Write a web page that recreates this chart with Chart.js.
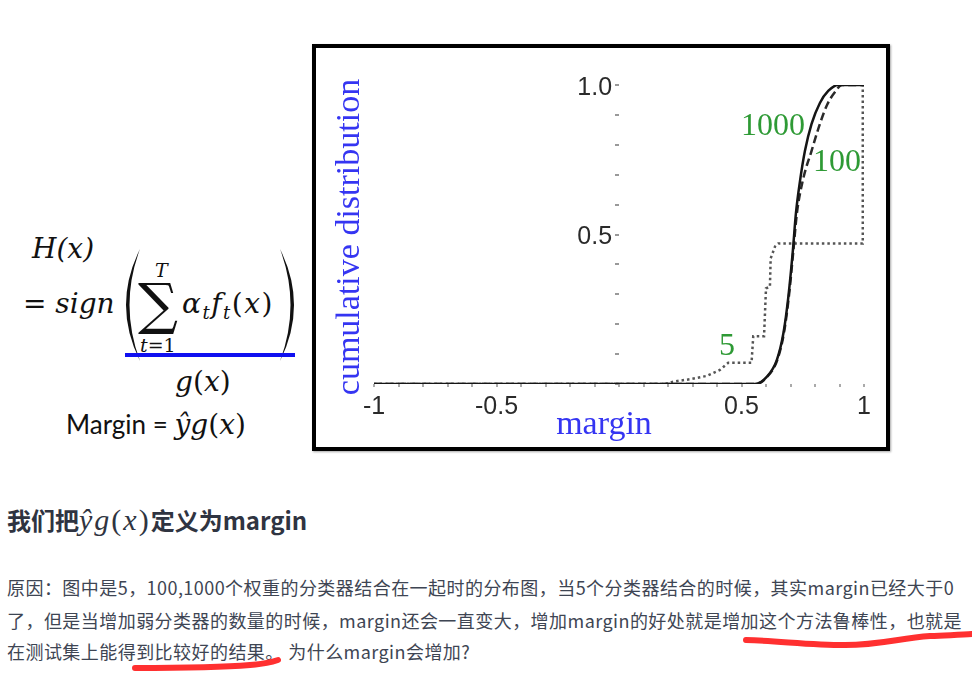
<!DOCTYPE html>
<html>
<head>
<meta charset="utf-8">
<script src="https://cdn.jsdelivr.net/npm/chart.js@4.4.1/dist/chart.umd.min.js"></script>
<style>
  html, body { margin: 0; padding: 0; background: #fff; }
  body { width: 972px; height: 677px; position: relative; overflow: hidden; }
  .m { position: absolute; font-family: "DejaVu Serif", serif; font-style: italic; font-size: 28px; line-height: 1; color: #111; white-space: nowrap; }
  .up { font-style: normal; }
  .sb { font-size: 18px; position: relative; top: 6px; }
  #figBox { position: absolute; left: 312px; top: 44px; width: 578px; height: 407px; border: 4px solid #000; box-sizing: border-box; box-shadow: 1px 1px 2px rgba(0,0,0,0.35); background: #fff; }
  #figInner { position: relative; width: 570px; height: 399px; }
  h3 { position: absolute; left: 7px; top: 503px; margin: 0; font-family: "Noto Sans CJK SC", sans-serif; font-weight: bold; font-size: 24px; line-height: 34px; color: #2f3441; white-space: nowrap; }
  .kx { font-family: "Liberation Serif", serif; font-weight: normal; font-size: 30px; letter-spacing: 2px; }
  .ln { position: absolute; left: 7px; font-family: "Noto Sans CJK SC", sans-serif; font-size: 18px; letter-spacing: 0.45px; line-height: 32px; color: #3e4553; white-space: nowrap; }
</style>
</head>
<body>

<!-- formula on the left -->
<div class="m" style="left:32px; top:235px;">H(x)</div>
<div class="m" style="left:23px; top:290px;"><span class="up">=</span> sign</div>
<svg style="position:absolute; left:0; top:0;" width="312" height="450">
  <path d="M140,249 Q112,305 140,361 Q119,305 140,249 Z" fill="#111"/>
  <path d="M280,249 Q308,305 280,361 Q301,305 280,249 Z" fill="#111"/>
  <rect x="125" y="353" width="170" height="4" fill="#1010f0"/>
</svg>
<div class="m up" style="left:138px; top:276px; font-size:56px;">∑</div>
<div class="m" style="left:155px; top:261px; font-size:19px;">T</div>
<div class="m" style="left:140px; top:336px; font-size:19px;">t<span class="up">=1</span></div>
<div class="m" style="left:182px; top:290px; letter-spacing:1.5px;">α<span class="sb">t</span>f<span class="sb">t</span><span class="up">(</span>x<span class="up">)</span></div>
<div class="m" style="left:175px; top:368px;">g<span class="up">(</span>x<span class="up">)</span></div>
<div class="m" style="left:66px; top:411px;"><span style="font-family:Lato, sans-serif; font-style:normal; font-size:26px;">Margin = </span>ŷg<span class="up">(</span>x<span class="up">)</span></div>

<!-- chart -->
<div id="figBox"><div id="figInner"><canvas id="marginChart"></canvas></div></div>

<!-- text below -->
<h3>我们把<span class="kx"><i>ŷg</i>(<i>x</i>)</span>定义为margin</h3>
<div class="ln" style="top:571px;">原因：图中是5，100,1000个权重的分类器结合在一起时的分布图，当5个分类器结合的时候，其实margin已经大于0</div>
<div class="ln" style="top:604px;">了，但是当增加弱分类器的数量的时候，margin还会一直变大，增加margin的好处就是增加这个方法鲁棒性，也就是</div>
<div class="ln" style="top:635px;">在测试集上能得到比较好的结果。 为什么margin会增加?</div>

<svg style="position:absolute; left:0; top:0; pointer-events:none;" width="972" height="677">
  <path d="M746,640 C780,641 810,645 845,645 C880,645 900,638 930,636 C950,635 962,635 972,634" stroke="#ff3030" stroke-width="6" fill="none" stroke-linecap="round"/>
  <path d="M135,668 C170,668 215,668 250,665 C265,664 272,662 278,660" stroke="#ff3030" stroke-width="6" fill="none" stroke-linecap="round"/>
</svg>

<script>
// margin values (x) and cumulative distribution (y)
const margin1000 = [-1, 0.555, 0.603, 0.644, 0.671, 0.691, 0.709, 0.722, 0.739, 0.759, 0.786, 0.82, 0.854, 0.895, 1.0];
const cdf1000    = [0, 0, 0.024, 0.08, 0.17, 0.29, 0.44, 0.57, 0.68, 0.78, 0.87, 0.94, 0.98, 1.0, 1.0];

const margin100 = [-1, 0.56, 0.605, 0.646, 0.673, 0.693, 0.711, 0.726, 0.75, 0.786, 0.82, 0.85, 0.88, 0.91, 1.0];
const cdf100    = [0, 0, 0.024, 0.08, 0.17, 0.29, 0.44, 0.57, 0.68, 0.78, 0.87, 0.935, 0.975, 1.0, 1.0];

const margin5 = [-1, 0.19, 0.222, 0.29, 0.358, 0.412, 0.446, 0.541, 0.548, 0.592, 0.6, 0.616, 0.619, 0.637, 0.65, 0.995, 0.995];
const cdf5    = [0, 0, 0.008, 0.016, 0.027, 0.047, 0.071, 0.071, 0.16, 0.16, 0.32, 0.325, 0.42, 0.46, 0.47, 0.47, 1.0];

// green labels next to the curves
const curveNames = ['1000', '100', '5'];
const nameX = [0.629, 0.89, 0.441];
const nameY = [0.86, 0.74, 0.124];

// tick labels, keyed by tick value * 10
const xTickLabels = {'-10': '-1', '-5': '-0.5', '5': '0.5', '10': '1'};
const yTickLabels = {'5': '0.5 ', '10': '1.0 '};

function toPoints(xs, ys) {
    return xs.map((v, i) => ({x: v, y: ys[i]}));
}

const figText = {
    id: 'figText',
    afterDatasetsDraw(chart) {
        const {ctx, scales} = chart;
        ctx.save();
        ctx.textAlign = 'center';
        ctx.textBaseline = 'middle';
        ctx.fillStyle = '#2e9a35';
        ctx.font = '32px "Liberation Serif"';
        curveNames.forEach((t, i) => {
            ctx.fillText(t, scales.x.getPixelForValue(nameX[i]), scales.y.getPixelForValue(nameY[i]));
        });
        // axis titles
        ctx.fillStyle = '#3535f2';
        ctx.font = '34px "Liberation Serif"';
        ctx.fillText('margin', 288, 377);
        ctx.translate(34, 189);
        ctx.rotate(-Math.PI / 2);
        ctx.fillText('cumulative distribution', 0, 0);
        ctx.restore();
    }
};

const ctx = document.getElementById('marginChart').getContext('2d');
new Chart(ctx, {
    type: 'line',
    data: {
        datasets: [
            {
                label: '1000',
                data: toPoints(margin1000, cdf1000),
                borderColor: '#151515',
                borderWidth: 2.5,
                pointRadius: 0,
                cubicInterpolationMode: 'monotone'
            },
            {
                label: '100',
                data: toPoints(margin100, cdf100),
                borderColor: '#2a2a2a',
                borderWidth: 2.5,
                borderDash: [8, 4],
                pointRadius: 0,
                cubicInterpolationMode: 'monotone'
            },
            {
                label: '5',
                data: toPoints(margin5, cdf5),
                borderColor: '#555',
                borderWidth: 2.5,
                borderDash: [2.5, 3],
                pointRadius: 0,
                tension: 0
            }
        ]
    },
    options: {
        responsive: true,
        maintainAspectRatio: false,
        animation: false,
        layout: { padding: { left: 58, right: 22, top: 37, bottom: 63 } },
        plugins: {
            legend: { display: false },
            tooltip: { enabled: false }
        },
        scales: {
            x: {
                type: 'linear',
                position: { y: 0 },
                min: -1,
                max: 1,
                border: { display: false },
                grid: { drawOnChartArea: false, drawTicks: true, tickLength: 3, color: '#aaa', lineWidth: 2 },
                ticks: {
                    stepSize: 0.1,
                    autoSkip: false,
                    maxRotation: 0,
                    padding: 5,
                    color: '#2a2a2a',
                    font: { family: 'Liberation Sans', size: 25 },
                    callback: v => xTickLabels[String(Math.round(v * 10))] || ''
                }
            },
            y: {
                type: 'linear',
                position: { x: 0 },
                min: 0,
                max: 1,
                border: { display: false },
                grid: { drawOnChartArea: false, drawTicks: true, tickLength: 4, color: '#999', lineWidth: 2 },
                ticks: {
                    stepSize: 0.1,
                    autoSkip: false,
                    padding: 4,
                    labelOffset: 3,
                    color: '#2a2a2a',
                    font: { family: 'Liberation Sans', size: 25 },
                    callback: v => yTickLabels[String(Math.round(v * 10))] || ''
                }
            }
        }
    },
    plugins: [figText]
});
</script>
</body>
</html>
